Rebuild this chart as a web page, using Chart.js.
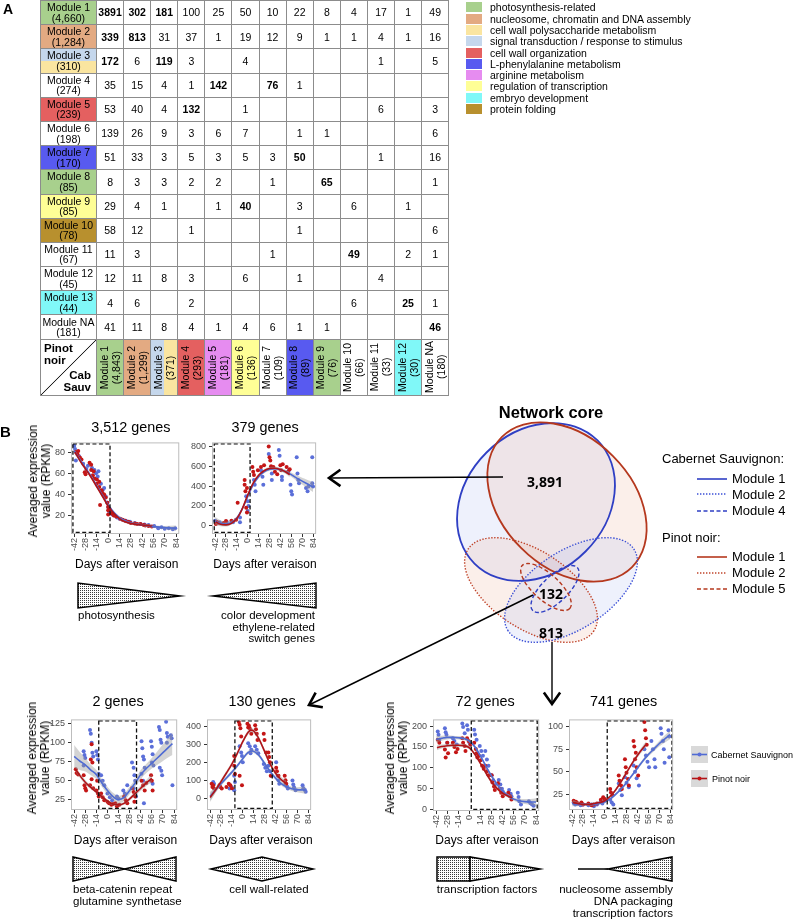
<!DOCTYPE html>
<html>
<head>
<meta charset="utf-8">
<title>Network core</title>
<script src="https://cdn.jsdelivr.net/npm/chart.js"></script>
<style>
  body { margin: 0; background: #fff; }
  #page { position: relative; width: 799px; height: 920px; overflow: hidden;
          font-family: "Liberation Sans", Arial, sans-serif; color: #000; }
  .t { position: absolute; white-space: nowrap; }
  #tbl { position: absolute; left: 40px; top: 0; display: grid;
         grid-template-columns: 56px repeat(13, 27.1px);
         grid-template-rows: repeat(14, 24.2px) 56px;
         border-top: 1px solid #8c8c8c; border-left: 1px solid #8c8c8c; }
  #tbl .c { box-sizing: border-box; border-right: 1px solid #8c8c8c; border-bottom: 1px solid #8c8c8c;
            display: flex; align-items: center; justify-content: center; text-align: center;
            font-size: 10.5px; line-height: 10.5px; }
  #tbl .b { font-weight: bold; }
  #tbl .vt { writing-mode: vertical-rl; transform: rotate(180deg); line-height: 11.5px; }
  #corner { position: relative; font-weight: bold; font-size: 11.5px !important;
            background: linear-gradient(to bottom right, transparent calc(50% - 0.8px), #222 50%, transparent calc(50% + 0.8px)); }
  canvas { position: absolute; }
</style>
</head>
<body>
<div id="page"></div>
<script>
// ---------- panel A data ----------
const rowModules = ['Module 1','Module 2','Module 3','Module 4','Module 5','Module 6','Module 7',
                    'Module 8','Module 9','Module 10','Module 11','Module 12','Module 13','Module NA'];
const rowSizes = ['4,660','1,284','310','274','239','198','170','85','85','78','67','45','44','181'];
const colModules = ['Module 1','Module 2','Module 3','Module 4','Module 5','Module 6','Module 7',
                    'Module 8','Module 9','Module 10','Module 11','Module 12','Module NA'];
const colSizes = ['4,843','1,299','371','293','181','136','109','89','76','66','33','30','180'];
const overlapCounts = [
  [3891,302,181,100,25,50,10,22,8,4,17,1,49],
  [339,813,31,37,1,19,12,9,1,1,4,1,16],
  [172,6,119,3,null,4,null,null,null,null,1,null,5],
  [35,15,4,1,142,null,76,1,null,null,null,null,null],
  [53,40,4,132,null,1,null,null,null,null,6,null,3],
  [139,26,9,3,6,7,null,1,1,null,null,null,6],
  [51,33,3,5,3,5,3,50,null,null,1,null,16],
  [8,3,3,2,2,null,1,null,65,null,null,null,1],
  [29,4,1,null,1,40,null,3,null,6,null,1,null],
  [58,12,null,1,null,null,null,1,null,null,null,null,6],
  [11,3,null,null,null,null,1,null,null,49,null,2,1],
  [12,11,8,3,null,6,null,1,null,null,4,null,null],
  [4,6,null,2,null,null,null,null,null,6,null,25,1],
  [41,11,8,4,1,4,6,1,1,null,null,null,46]
];
const boldCells = [[0,0],[0,1],[0,2],[1,0],[1,1],[2,0],[2,2],[3,4],[3,6],[4,3],[6,7],[7,8],[8,5],[10,9],[12,11],[13,12]];
const categories = ['photosynthesis-related','nucleosome, chromatin and DNA assembly','cell wall polysaccharide metabolism',
  'signal transduction / response to stimulus','cell wall organization','L-phenylalanine metabolism',
  'arginine metabolism','regulation of transcription','embryo development','protein folding'];
const categoryColors = ['#a8d08d','#e3aa82','#fae5a0','#c5d7ec','#e46060','#585af0','#e68cf0','#fefe96','#80f8f8','#b8902e'];
// category index per module (array = split cell)
const rowCats = [0,1,[3,2],null,4,null,5,0,7,9,null,null,8,null];
const colCats = [0,1,[3,2],4,6,7,null,5,0,null,null,8,null];

// ---------- panel B data ----------
const geneCounts = [3512, 379, 2, 130, 72, 741];
const coreCounts = [3891, 132, 813];
const xTicks = [-42,-28,-14,0,14,28,42,56,70,84];
const yTicks = [[20,40,60,80],[0,200,400,600,800],[25,50,75,100,125],[0,100,200,300,400],[0,50,100,150,200],[25,50,75,100]];
const focusWindows = [[-43.6,2.3],[-43.1,3],[-11,36.7],[-10.1,38],[2.3,85.5],[3.2,86.5]];

const cab1 = [[-42,86],[-41,83],[-40,72],[-39,80],[-36,76],[-31,69],[-27,64],[-25,67],[-20,65],[-17,63],[-15,60],[-13,57],[-12,62],[-9,50],[-7,44],[-5,46],[-3,38],[-1,32],[0,28],[1,24],[3,23],[5,21],[8,20],[11,18],[14,17],[18,16],[22,15],[27,14],[33,13],[40,12],[45,11.5],[50,11],[57,10],[62,8],[66,9],[70,7.5],[75,8],[80,7],[83,8]];
const pinot1 = [[-40,80],[-38,78],[-37,81],[-35,75],[-33,73],[-29,61],[-28,59],[-23,70],[-21,68],[-21,63],[-19,58],[-18,62],[-17,55],[-14,54],[-14,50],[-11,52],[-11,47],[-10,30],[-8,44],[-7,41],[-5,40],[-3,37],[-1,32],[0,25],[0,21],[0,28],[2,26],[4,22],[7,20],[10,19],[15,17],[18,16],[21,15],[25,14],[28,13],[33,12.5],[36,12],[40,12],[44,11],[46,10.5],[50,10],[54,9.5]];
const cabFit1 = [[-42,81,2],[-35,73,1.5],[-28,65,1.2],[-21,57,1],[-14,48,1],[-7,39,1],[0,30,1],[7,23,1],[14,18,1],[21,15,1],[28,13,1],[42,11,1],[56,9.5,1.2],[70,8.5,1.5],[84,8,2.5]];
const pinotFit1 = [[-41,80,2],[-35,72,1.5],[-28,64,1.2],[-21,56,1],[-14,47,1],[-7,38,1],[0,29,1],[7,22,1],[14,17,1],[21,14,1],[28,12.5,1],[42,11,1],[54,10,1.5]];

const cab2 = [[-42,49],[-36,33],[-27,39],[-19,33],[-10,82],[-10,33],[-2,296],[0,247],[0,148],[1,197],[8,461],[9,412],[10,346],[17,560],[19,494],[20,412],[27,725],[31,527],[31,461],[40,764],[41,708],[44,494],[44,461],[53,560],[55,412],[56,346],[57,313],[63,692],[64,527],[65,461],[66,428],[75,379],[77,346],[78,395],[83,692],[83,428],[84,395]];
const pinot2 = [[-41,16],[-40,39],[-38,28],[-31,26],[-28,45],[-21,49],[-15,59],[-13,230],[-4,461],[-4,412],[-3,346],[-2,181],[-1,132],[-1,380],[6,593],[7,544],[8,511],[13,560],[17,593],[21,610],[27,800],[28,692],[29,659],[30,600],[33,593],[35,544],[38,520],[42,610],[43,560],[45,620],[50,593],[52,544],[54,570]];
const cabFit2 = [[-42,45,40],[-35,22,30],[-28,14,25],[-21,30,20],[-14,75,18],[-7,170,18],[0,295,18],[7,415,18],[14,495,15],[21,545,15],[28,570,15],[35,575,15],[42,565,15],[49,545,18],[56,515,22],[63,480,28],[70,450,34],[77,420,42],[84,390,50]];
const pinotFit2 = [[-41,35,18],[-35,12,14],[-28,6,12],[-21,22,12],[-14,70,14],[-7,170,16],[0,310,18],[7,430,18],[14,510,16],[21,555,16],[28,577,16],[35,580,16],[42,567,18],[49,542,20],[54,515,26]];

const cab3 = [[-30,89],[-29,84],[-28,80],[-30,70],[-22,117],[-21,112],[-20,100],[-19,87],[-18,82],[-14,89],[-13,84],[-12,78],[-11,59],[-8,57],[-6,50],[-4,44],[0,33],[3,28],[6,24],[12,29],[14,26],[20,37],[22,33],[25,44],[31,74],[33,67],[34,57],[35,50],[33,40],[36,29],[43,102],[44,93],[45,82],[46,78],[47,67],[43,59],[45,50],[46,20],[55,102],[56,95],[57,85],[56,74],[58,70],[55,50],[57,46],[65,121],[66,117],[67,104],[68,100],[66,67],[68,63],[69,57],[74,128],[75,113],[76,108],[75,100],[80,110],[81,106],[82,44]];
const pinot3 = [[-40,65],[-39,60],[-37,58],[-30,57],[-29,44],[-28,40],[-27,37],[-20,98],[-21,78],[-19,74],[-22,44],[-18,40],[-20,52],[-14,37],[-12,33],[-11,29],[-13,50],[-8,33],[-6,28],[-4,24],[0,22],[2,20],[5,18],[7,19],[10,20],[12,16],[15,18],[21,29],[23,24],[25,20],[31,40],[33,35],[35,29],[34,22],[43,50],[45,44],[47,37],[49,47],[55,57],[56,50],[57,37]];
const cabFit3 = [[-42,82,15],[-35,76,12],[-28,71,9],[-21,64,7],[-14,58,6],[-7,47,5],[0,37,5],[7,29,5],[14,25,5],[21,28,5],[28,37,5],[35,47,5],[42,58,6],[49,66,6],[56,73,7],[63,80,9],[70,87,11],[77,94,13],[82,99,15]];
const pinotFit3 = [[-40,65,4],[-35,57,3],[-28,48,3],[-21,41,2.5],[-14,35,2],[-7,29,2],[0,23,2],[7,19,2],[14,18,2],[21,20,2],[28,26,2.5],[35,33,3],[42,40,3.5],[49,47,4],[56,53,5]];

const cab4 = [[-38,89],[-37,80],[-17,53],[-14,60],[-11,125],[-10,90],[-11,44],[-4,290],[-2,255],[-1,235],[0,200],[7,307],[9,290],[11,270],[10,250],[16,290],[18,270],[20,250],[27,190],[29,170],[31,150],[33,180],[35,150],[37,125],[43,200],[45,125],[46,100],[47,80],[55,80],[57,65],[58,53],[64,98],[65,75],[66,60],[68,44],[77,71],[78,55],[80,45],[81,35]];
const pinot4 = [[-40,80],[-39,62],[-38,71],[-37,53],[-30,71],[-29,62],[-27,53],[-21,62],[-18,80],[-16,71],[-14,55],[-11,235],[-11,180],[-10,135],[-5,425],[-4,410],[-3,390],[-2,345],[-4,125],[-1,71],[6,416],[8,405],[9,390],[11,360],[7,395],[16,407],[17,385],[18,360],[19,325],[27,360],[28,325],[30,255],[33,255],[34,230],[35,200],[36,125],[43,170],[44,150],[46,125],[54,125],[55,100],[56,80]];
const cabFit4 = [[-42,10,25],[-35,45,15],[-28,80,12],[-21,112,10],[-14,145,10],[-7,180,10],[0,220,10],[7,255,10],[12,263,10],[21,238,10],[28,195,10],[35,150,10],[42,112,10],[49,82,10],[56,63,10],[63,52,12],[70,47,14],[77,45,18],[81,44,20]];
const pinotFit4 = [[-42,3,25],[-35,45,16],[-28,92,12],[-21,140,12],[-14,190,12],[-7,250,12],[0,315,12],[7,368,12],[11,380,12],[14,375,12],[21,330,12],[28,262,12],[35,192,12],[42,140,12],[49,105,14],[56,80,18]];

const cab5 = [[-40,187],[-39,179],[-38,167],[-31,195],[-30,185],[-29,179],[-28,160],[-21,171],[-19,164],[-16,156],[-9,206],[-8,198],[-6,183],[-3,202],[-2,191],[0,160],[6,191],[7,180],[9,167],[13,152],[15,140],[17,129],[20,140],[22,120],[24,105],[28,82],[30,70],[32,59],[37,71],[39,60],[41,50],[42,43],[50,47],[52,38],[53,32],[61,40],[62,30],[63,20],[65,12],[75,20],[77,15],[79,12],[81,9]];
const pinot5 = [[-40,167],[-38,160],[-31,144],[-30,125],[-28,160],[-27,135],[-21,160],[-19,150],[-17,137],[-15,145],[-9,171],[-8,160],[-6,152],[-5,140],[-3,171],[-1,164],[1,155],[6,160],[8,145],[9,135],[10,125],[12,129],[14,118],[16,105],[18,98],[20,105],[22,92],[24,82],[28,82],[29,65],[31,55],[32,47],[36,63],[38,50],[40,40],[42,32],[49,40],[51,32],[53,24]];
const cabFit5 = [[-42,168,8],[-35,171,6],[-28,173,5],[-21,173,4],[-14,172,4],[-7,170,4],[0,164,4],[7,150,4],[14,128,4],[21,103,4],[28,80,4],[35,60,4],[42,44,4],[49,33,4],[56,25,4],[63,21,5],[70,19,6],[77,18,7],[84,18,9]];
const pinotFit5 = [[-41,148,6],[-35,151,5],[-28,153,4],[-21,154,4],[-14,154,4],[-7,153,4],[0,148,4],[7,132,4],[14,110,4],[21,87,4],[28,66,4],[35,50,4],[42,39,4],[49,32,4],[54,28,5]];

const cab6 = [[-40,16],[-38,14],[-35,15],[-31,13],[-28,14],[-21,13],[-17,14],[-14,12],[-10,14],[-5,17],[-3,15],[0,18],[7,19],[9,16],[11,14],[18,37],[20,30],[22,24],[26,44],[28,38],[31,33],[37,57],[39,50],[41,43],[44,35],[51,75],[53,68],[55,61],[57,55],[60,84],[62,75],[64,64],[65,55],[72,98],[73,92],[75,84],[76,75],[77,60],[82,96],[83,89],[83,66]];
const pinot6 = [[-40,18],[-37,17],[-34,15],[-30,16],[-28,14],[-21,15],[-17,13],[-14,14],[-10,15],[-5,19],[-2,22],[0,20],[7,31],[8,27],[10,24],[18,46],[19,40],[21,35],[22,31],[26,64],[27,55],[28,49],[30,42],[31,35],[37,84],[38,78],[40,71],[39,64],[41,55],[43,46],[51,105],[52,96],[53,87],[54,80]];
const cabFit6 = [[-42,15,3],[-35,14,2],[-28,14,1.5],[-21,14,1.5],[-14,14,1.5],[-7,15,1.5],[0,17,1.5],[7,20,1.5],[14,25,1.5],[21,31,1.5],[28,38,1.5],[35,46,1.5],[42,54,2],[49,62,2],[56,69,2],[63,75,2.5],[70,81,3],[77,86,4],[84,91,5]];
const pinotFit6 = [[-41,16,3],[-35,15,2],[-28,14,1.5],[-21,14,1.5],[-14,15,1.5],[-7,16,1.5],[0,18,1.5],[7,23,1.5],[14,30,1.5],[21,39,1.5],[28,49,2],[35,59,2],[42,68,2.5],[49,76,3],[53,80,3.5]];

const cabSeries = [cab1, cab2, cab3, cab4, cab5, cab6];
const pinotSeries = [pinot1, pinot2, pinot3, pinot4, pinot5, pinot6];
const cabFits = [cabFit1, cabFit2, cabFit3, cabFit4, cabFit5, cabFit6];
const pinotFits = [pinotFit1, pinotFit2, pinotFit3, pinotFit4, pinotFit5, pinotFit6];

// ---------- layout ----------
const panelBoxes = [[70.7,440,181.7,534],[211.7,440,318.3,534],[71,717,180,810],[207,717,314,810],[433,717,542,811],[569,717,676,810]];
const yLimits = [[2.5,89.2],[-86,842],[11.2,131],[-67,440],[-3.5,216],[7.8,107.9]];
const titlePos = [[130.8,427],[265,427],[118,701],[262,701],[485,701],[623.7,701]];
const xTitlePos = [[126.7,564],[265,564],[125.5,840],[261,840],[487,840],[623.5,840]];
const yTitlePos = [[40,481],null,[39,757.5],null,[397,757.5],null];

const CAB_PT = '#5b6fd9', PIN_PT = '#c41616', CAB_LN = '#4f6bd3', PIN_LN = '#b01418', BAND = 'rgba(150,150,150,0.42)';

const page = document.getElementById('page');
Chart.defaults.font.family = '"Liberation Sans", Arial, sans-serif';

function txt(s, x, y, o = {}) {
  const d = document.createElement('div');
  d.className = 't';
  if (o.html) d.innerHTML = s; else d.textContent = s;
  const size = o.size || 11.5;
  d.style.fontSize = size + 'px';
  d.style.lineHeight = (o.lh || Math.round(size * 1.2)) + 'px';
  if (o.bold) d.style.fontWeight = 'bold';
  if (o.font) d.style.fontFamily = o.font;
  if (o.color) d.style.color = o.color;
  d.style.textAlign = 'center';
  d.style.left = x + 'px';
  d.style.top = y + 'px';
  const tx = o.align === 'left' ? '0' : o.align === 'right' ? '-100%' : '-50%';
  d.style.transform = `translate(${tx}, -50%)` + (o.rot ? ` rotate(${o.rot}deg)` : '');
  page.appendChild(d);
}

function catBg(c) {
  if (c === null) return '#fff';
  if (Array.isArray(c)) return null;
  return categoryColors[c];
}

// ---------- overlay (venn, arrows, glyphs) ----------
const ovCanvas = document.createElement('canvas');
ovCanvas.width = 799; ovCanvas.height = 920;
ovCanvas.style.cssText = 'left:0;top:0;width:799px;height:920px';
page.appendChild(ovCanvas);

const vennShapes = [
  {cx:536, cy:502, rx:87, ry:70, rot:-45, col:'#2f3fc4', dash:[], lw:1.8, fill:'rgba(170,185,240,0.2)'},
  {cx:567, cy:502, rx:92, ry:65, rot:45, col:'#b5381e', dash:[], lw:1.8, fill:'rgba(235,175,150,0.2)'},
  {cx:531, cy:590, rx:75, ry:39, rot:33, col:'#c0442a', dash:[1.4,1.6], lw:1.4, fill:'rgba(235,175,150,0.2)'},
  {cx:571, cy:590, rx:75, ry:39, rot:147, col:'#3a4fd6', dash:[1.4,1.6], lw:1.4, fill:'rgba(170,185,240,0.2)'},
  {cx:555, cy:589, rx:31, ry:13, rot:136, col:'#2f3fc4', dash:[4,2.5], lw:1.4, fill:null},
  {cx:546, cy:587, rx:32, ry:13, rot:42, col:'#b5381e', dash:[4,2.5], lw:1.4, fill:null}
];
const legendLines = [
  {y:479, col:'#2f3fc4', dash:[]}, {y:494, col:'#3a4fd6', dash:[1.4,1.6]}, {y:511, col:'#2f3fc4', dash:[4,2.5]},
  {y:557, col:'#b5381e', dash:[]}, {y:573, col:'#c0442a', dash:[1.4,1.6]}, {y:589, col:'#b5381e', dash:[4,2.5]}
];
const glyphs = [
  [[78,583],[78,608],[180,596]],
  [[213,596],[316,583],[316,608]],
  [[73,857],[73,881],[124.5,869]],
  [[176,857],[176,881],[124.5,869]],
  [[211,869],[262,857],[313,869],[262,881]],
  [[437,857],[470,857],[470,881],[437,881]],
  [[470,857],[470,881],[540,869]],
  [[608,869],[672,857],[672,881]]
];

const diagram = {
  id: 'diagram',
  afterDraw(chart) {
    const ctx = chart.ctx, sx = chart.scales.x, sy = chart.scales.y;
    const X = v => sx.getPixelForValue(v), Y = v => sy.getPixelForValue(v);
    ctx.save();
    vennShapes.forEach(s => {
      if (!s.fill) return;
      ctx.beginPath();
      ctx.ellipse(X(s.cx), Y(s.cy), s.rx, s.ry, s.rot * Math.PI / 180, 0, Math.PI * 2);
      ctx.fillStyle = s.fill; ctx.fill();
    });
    vennShapes.forEach(s => {
      ctx.beginPath();
      ctx.ellipse(X(s.cx), Y(s.cy), s.rx, s.ry, s.rot * Math.PI / 180, 0, Math.PI * 2);
      ctx.setLineDash(s.dash); ctx.lineWidth = s.lw; ctx.strokeStyle = s.col; ctx.stroke();
    });
    legendLines.forEach(l => {
      ctx.beginPath(); ctx.moveTo(X(697), Y(l.y)); ctx.lineTo(X(727), Y(l.y));
      ctx.setLineDash(l.dash); ctx.lineWidth = 1.6; ctx.strokeStyle = l.col; ctx.stroke();
    });
    ctx.setLineDash([]);

    // arrows
    ctx.strokeStyle = '#000'; ctx.lineJoin = 'miter'; ctx.lineCap = 'butt';
    const arrow = (x1, y1, x2, y2) => {
      ctx.lineWidth = 1.4;
      ctx.beginPath(); ctx.moveTo(X(x1), Y(y1)); ctx.lineTo(X(x2), Y(y2)); ctx.stroke();
      const a = Math.atan2(y2 - y1, x2 - x1), L = 14, s = 0.62;
      ctx.lineWidth = 2.6;
      ctx.beginPath();
      ctx.moveTo(X(x2 - L * Math.cos(a - s)), Y(y2 - L * Math.sin(a - s)));
      ctx.lineTo(X(x2), Y(y2));
      ctx.lineTo(X(x2 - L * Math.cos(a + s)), Y(y2 - L * Math.sin(a + s)));
      ctx.stroke();
    };
    arrow(503, 477, 329, 478);
    arrow(533, 595, 309, 705);
    arrow(552, 642, 552, 704);

    // stippled trend glyphs
    const tile = document.createElement('canvas');
    tile.width = 2; tile.height = 2;
    const tg = tile.getContext('2d');
    tg.fillStyle = '#fff'; tg.fillRect(0, 0, 2, 2);
    tg.fillStyle = '#3a3a3a'; tg.fillRect(0, 0, 1, 1);
    const pat = ctx.createPattern(tile, 'repeat');
    ctx.lineWidth = 1.5; ctx.lineJoin = 'miter';
    glyphs.forEach(g => {
      ctx.beginPath();
      g.forEach((p, i) => i ? ctx.lineTo(X(p[0]), Y(p[1])) : ctx.moveTo(X(p[0]), Y(p[1])));
      ctx.closePath();
      ctx.fillStyle = pat; ctx.fill(); ctx.stroke();
    });
    ctx.lineWidth = 1.5;
    ctx.beginPath(); ctx.moveTo(X(578), Y(869)); ctx.lineTo(X(608), Y(869)); ctx.stroke();

    // legend keys of the bottom plots
    [[746, CAB_LN, CAB_PT], [770, PIN_LN, PIN_PT]].forEach(k => {
      ctx.fillStyle = '#d9d9d9'; ctx.fillRect(X(691), Y(k[0]), 17, 17);
      ctx.strokeStyle = k[1]; ctx.lineWidth = 1.6;
      ctx.beginPath(); ctx.moveTo(X(692), Y(k[0] + 8.5)); ctx.lineTo(X(707), Y(k[0] + 8.5)); ctx.stroke();
      ctx.fillStyle = k[2]; ctx.beginPath(); ctx.arc(X(699.5), Y(k[0] + 8.5), 2, 0, Math.PI * 2); ctx.fill();
    });
    ctx.restore();
  }
};

new Chart(ovCanvas, {
  type: 'scatter',
  data: { datasets: [] },
  options: {
    responsive: false, animation: false, events: [],
    layout: { padding: 0 },
    plugins: { legend: { display: false }, tooltip: { enabled: false } },
    scales: {
      x: { type: 'linear', min: 0, max: 799, display: false },
      y: { type: 'linear', min: 0, max: 920, reverse: true, display: false }
    }
  },
  plugins: [diagram]
});

// ---------- panel A table ----------
const tbl = document.createElement('div');
tbl.id = 'tbl';
page.appendChild(tbl);
rowModules.forEach((m, r) => {
  const lab = document.createElement('div');
  lab.className = 'c';
  lab.innerHTML = m + '<br>(' + rowSizes[r] + ')';
  const rc = rowCats[r];
  lab.style.background = Array.isArray(rc)
    ? `linear-gradient(to bottom, ${categoryColors[rc[0]]} 50%, ${categoryColors[rc[1]]} 50%)` : catBg(rc);
  tbl.appendChild(lab);
  overlapCounts[r].forEach((v, c) => {
    const d = document.createElement('div');
    d.className = 'c';
    if (boldCells.some(b => b[0] === r && b[1] === c)) d.classList.add('b');
    d.textContent = v === null ? '' : v;
    tbl.appendChild(d);
  });
});
const corner = document.createElement('div');
corner.className = 'c';
corner.id = 'corner';
corner.innerHTML = '<span style="position:absolute;left:3px;top:2px;text-align:left;line-height:12px">Pinot<br>noir</span>' +
                   '<span style="position:absolute;right:5px;bottom:2px;text-align:right;line-height:12px">Cab<br>Sauv</span>';
tbl.appendChild(corner);
colModules.forEach((m, c) => {
  const d = document.createElement('div');
  d.className = 'c';
  const cc = colCats[c];
  d.style.background = Array.isArray(cc)
    ? `linear-gradient(to right, ${categoryColors[cc[0]]} 50%, ${categoryColors[cc[1]]} 50%)` : catBg(cc);
  d.innerHTML = '<div class="vt">' + m + '<br>(' + colSizes[c] + ')</div>';
  tbl.appendChild(d);
});

// legend of panel A
categories.forEach((name, i) => {
  const sw = document.createElement('div');
  sw.style.cssText = `position:absolute;left:466px;top:${2.3 + i * 11.3}px;width:16px;height:10px;background:${categoryColors[i]}`;
  page.appendChild(sw);
  txt(name, 490, 7.3 + i * 11.3, { align: 'left', size: 10.5, lh: 12 });
});
txt('A', 3, 9, { align: 'left', size: 14, bold: true });
txt('B', 0, 432, { align: 'left', size: 15, bold: true });

// ---------- panel B plots ----------
const frame = {
  id: 'frame',
  afterDatasetsDraw(chart, args, opts) {
    const { ctx, chartArea: a, scales: { x } } = chart;
    ctx.save();
    const x1 = x.getPixelForValue(opts.win[0]), x2 = x.getPixelForValue(opts.win[1]);
    ctx.setLineDash([4, 2.5]); ctx.lineWidth = 1.3; ctx.strokeStyle = '#111';
    ctx.strokeRect(x1, a.top + 1.5, x2 - x1, a.bottom - a.top - 3);
    ctx.setLineDash([]); ctx.strokeStyle = '#bdbdbd'; ctx.lineWidth = 1;
    ctx.strokeRect(a.left + 0.5, a.top + 0.5, a.right - a.left - 1, a.bottom - a.top - 1);
    ctx.restore();
  }
};

const pts = arr => arr.map(p => ({ x: p[0], y: p[1] }));
const bandHi = arr => arr.map(p => ({ x: p[0], y: p[1] + p[2] }));
const bandLo = arr => arr.map(p => ({ x: p[0], y: p[1] - p[2] }));

function makePlot(i) {
  const [l, t, r, b] = panelBoxes[i];
  const cv = document.createElement('canvas');
  const w = Math.round(r - l) + 40, h = Math.round(b - t) + 30;
  cv.width = w; cv.height = h;
  cv.style.cssText = `left:${l - 34}px;top:${t - 6}px;width:${w}px;height:${h}px`;
  page.appendChild(cv);
  const pointSet = (data, col, order) => ({ data: pts(data), showLine: false, pointRadius: 2, pointBorderWidth: 0,
    pointBackgroundColor: col, pointBorderColor: col, order });
  const smooth = { cubicInterpolationMode: 'monotone', pointRadius: 0 };
  const tickCfg = { color: '#4d4d4d', font: { size: 9 } };
  const gridCfg = { display: true, drawOnChartArea: false, drawTicks: true, tickLength: 3, color: '#333' };
  new Chart(cv, {
    type: 'line',
    data: {
      datasets: [
        pointSet(cabSeries[i], CAB_PT, 5),
        pointSet(pinotSeries[i], PIN_PT, 4),
        { data: bandHi(cabFits[i]), borderWidth: 0, fill: false, order: 3, ...smooth },
        { data: bandLo(cabFits[i]), borderWidth: 0, fill: '-1', backgroundColor: BAND, order: 3, ...smooth },
        { data: bandHi(pinotFits[i]), borderWidth: 0, fill: false, order: 2, ...smooth },
        { data: bandLo(pinotFits[i]), borderWidth: 0, fill: '-1', backgroundColor: BAND, order: 2, ...smooth },
        { data: pts(cabFits[i]), borderColor: CAB_LN, borderWidth: 1.6, fill: false, order: 1, ...smooth },
        { data: pts(pinotFits[i]), borderColor: PIN_LN, borderWidth: 1.6, fill: false, order: 0, ...smooth }
      ]
    },
    options: {
      responsive: false, animation: false, events: [],
      layout: { padding: { top: 6, right: 6, left: 0, bottom: 0 } },
      plugins: { legend: { display: false }, tooltip: { enabled: false }, frame: { win: focusWindows[i] } },
      scales: {
        x: { type: 'linear', min: -46, max: 88,
             afterBuildTicks: s => { s.ticks = xTicks.map(v => ({ value: v })); },
             afterFit: s => { s.height = 24; },
             ticks: { ...tickCfg, autoSkip: false, minRotation: 90, maxRotation: 90, padding: 1 },
             grid: gridCfg, border: { display: false } },
        y: { type: 'linear', min: yLimits[i][0], max: yLimits[i][1],
             afterBuildTicks: s => { s.ticks = yTicks[i].map(v => ({ value: v })); },
             afterFit: s => { s.width = 34; },
             ticks: { ...tickCfg, padding: 3 },
             grid: gridCfg, border: { display: false } }
      }
    },
    plugins: [frame]
  });
  txt(geneCounts[i].toLocaleString('en-US') + ' genes', titlePos[i][0], titlePos[i][1], { size: 14.4 });
  txt('Days after veraison', xTitlePos[i][0], xTitlePos[i][1], { size: 12 });
  if (yTitlePos[i]) {
    txt('Averaged expression<br>value (RPKM)', yTitlePos[i][0], yTitlePos[i][1], { size: 12, lh: 13, html: true, rot: -90 });
  }
}
for (let i = 0; i < 6; i++) makePlot(i);

// venn labels and legend
txt('Network core', 551, 412, { size: 16.5, bold: true });
txt(coreCounts[0].toLocaleString('en-US'), 545, 481, { size: 14, bold: true, font: '"Noto Sans", sans-serif' });
txt(coreCounts[1].toLocaleString('en-US'), 551, 593, { size: 14, bold: true, font: '"Noto Sans", sans-serif' });
txt(coreCounts[2].toLocaleString('en-US'), 551, 632, { size: 14, bold: true, font: '"Noto Sans", sans-serif' });
txt('Cabernet Sauvignon:', 662, 459, { align: 'left', size: 13 });
txt('Module 1', 732, 479, { align: 'left', size: 13 });
txt('Module 2', 732, 495, { align: 'left', size: 13 });
txt('Module 4', 732, 511, { align: 'left', size: 13 });
txt('Pinot noir:', 662, 537.5, { align: 'left', size: 13 });
txt('Module 1', 732, 557, { align: 'left', size: 13 });
txt('Module 2', 732, 573, { align: 'left', size: 13 });
txt('Module 5', 732, 589, { align: 'left', size: 13 });

// bottom legend
txt('Cabernet Sauvignon', 711, 755, { align: 'left', size: 9 });
txt('Pinot noir', 712, 779, { align: 'left', size: 9 });

// glyph captions
txt('photosynthesis', 78, 615, { align: 'left', size: 11.5 });
txt('color development', 315, 615, { align: 'right', size: 11.5 });
txt('ethylene-related', 315, 626.5, { align: 'right', size: 11.5 });
txt('switch genes', 315, 638, { align: 'right', size: 11.5 });
txt('beta-catenin repeat', 73, 889, { align: 'left', size: 11.5 });
txt('glutamine synthetase', 73, 901, { align: 'left', size: 11.5 });
txt('cell wall-related', 269, 889, { size: 11.5 });
txt('transcription factors', 487, 889, { size: 11.5 });
txt('nucleosome assembly', 673, 889, { align: 'right', size: 11.5 });
txt('DNA packaging', 673, 901, { align: 'right', size: 11.5 });
txt('transcription factors', 673, 913, { align: 'right', size: 11.5 });
</script>
</body>
</html>
